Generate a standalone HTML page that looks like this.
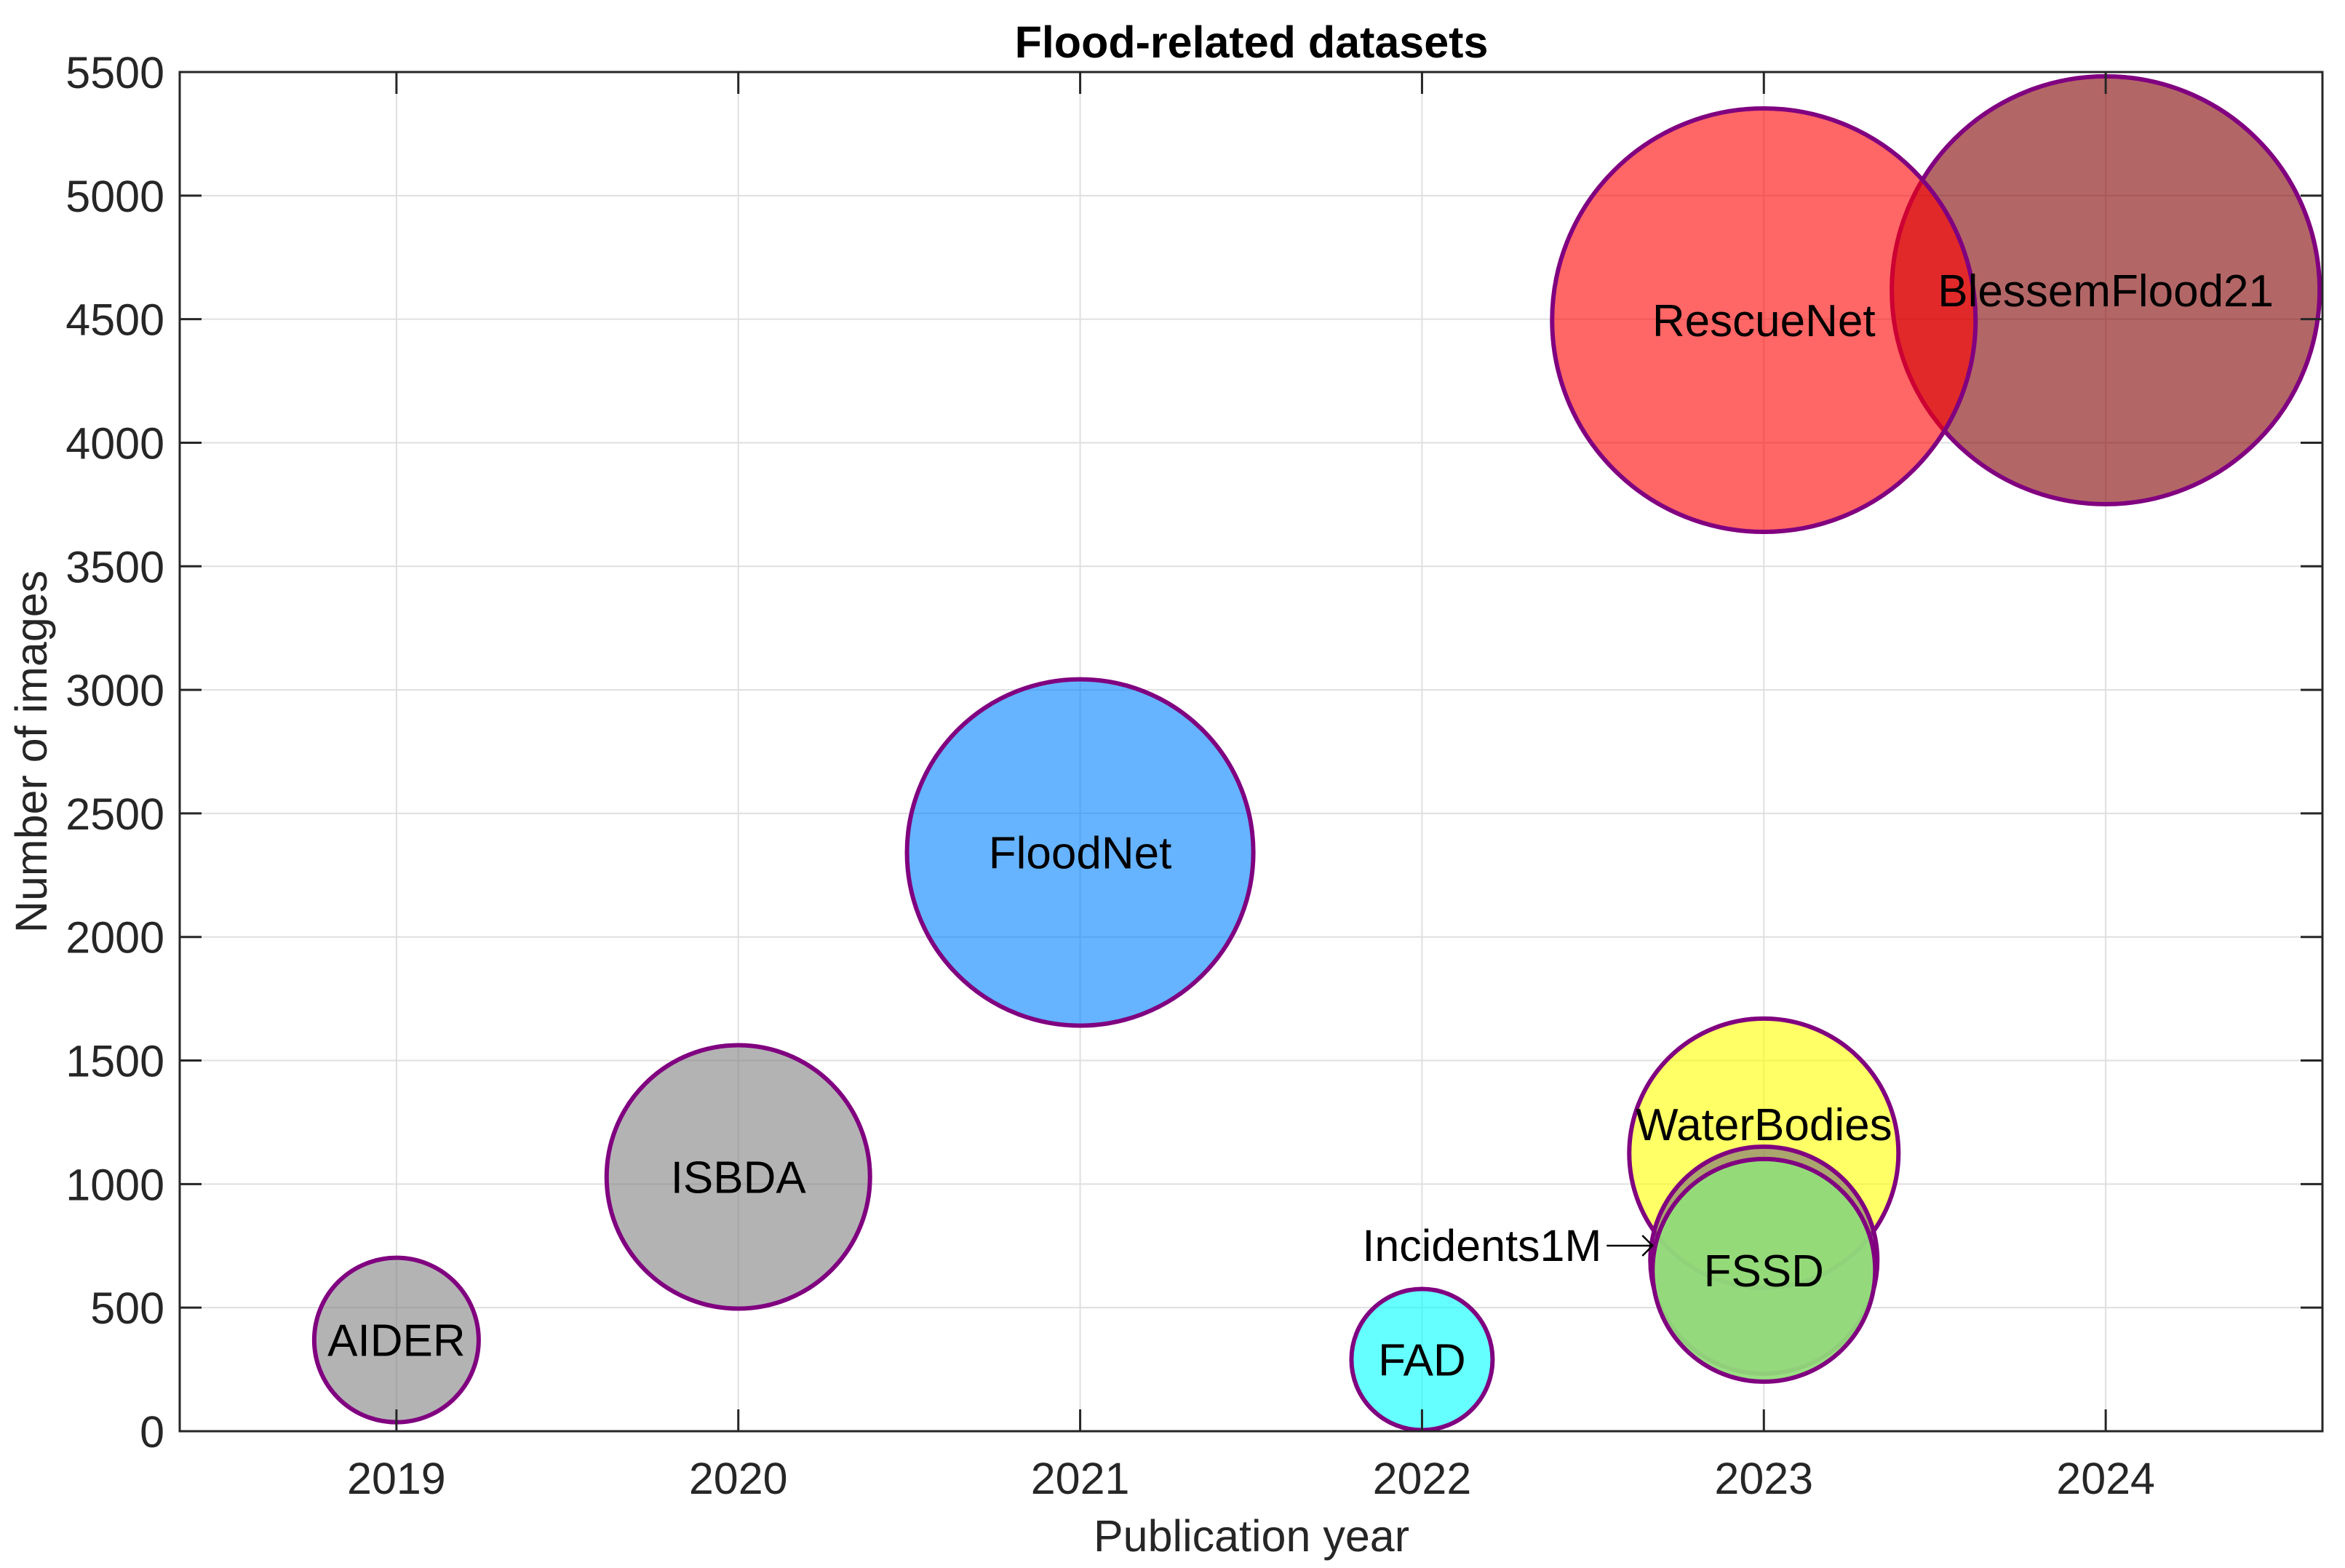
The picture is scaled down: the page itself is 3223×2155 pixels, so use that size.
<!DOCTYPE html>
<html><head><meta charset="utf-8"><style>
html,body{margin:0;padding:0;background:#fff}
svg{display:block;font-family:"Liberation Sans",Arial,sans-serif}
</style></head><body>
<svg id="chart" width="3223" height="2155" viewBox="0 0 3223 2155" xmlns="http://www.w3.org/2000/svg">
<rect x="0" y="0" width="3223" height="2155" fill="#fff"/>
<g id="grid"></g>
<g id="bubbles"></g>
<g id="labels"></g>
<g id="axes"></g>
<text x="1720" y="79" text-anchor="middle" font-size="61" font-weight="bold" fill="#000">Flood-related datasets</text>
<text x="1720" y="2132" text-anchor="middle" font-size="61" fill="#262626">Publication year</text>
<text x="0" y="0" transform="translate(64,1033) rotate(-90)" text-anchor="middle" font-size="61" fill="#262626">Number of images</text>
</svg>
<script>
const names = ["BlessemFlood21","RescueNet","AIDER","ISBDA","FloodNet","FAD","WaterBodies","Incidents1M","FSSD"];
const years = [2024,2023,2019,2020,2021,2022,2023,2023,2023];
const images = [4617,4496,369,1029,2342,290,1125,692,651];
const bubbleRadius = [294,291,113,181,238,97,185,156,153];
const fills = ["rgba(128,0,0,0.6)","rgba(255,0,0,0.6)","rgba(128,128,128,0.6)","rgba(128,128,128,0.6)","rgba(0,128,255,0.6)","rgba(0,255,255,0.6)","rgba(255,255,0,0.6)","rgba(115,105,115,0.6)","rgba(146,222,122,0.93)"];
const labelShift = [0,0,0,0,0,0,-40,0,0];
const xTicks = [2019,2020,2021,2022,2023,2024];
const yTicks = [0,500,1000,1500,2000,2500,3000,3500,4000,4500,5000,5500];

const L=247,R=3192,T=99,B=1967;
const xMin=2018.366,xMax=2024.634,yMin=0,yMax=5500;
const xs=v=>L+(v-xMin)/(xMax-xMin)*(R-L);
const ys=v=>B-(v-yMin)/(yMax-yMin)*(B-T);
const NS="http://www.w3.org/2000/svg";
function mk(tag,attrs,parent){const e=document.createElementNS(NS,tag);for(const k in attrs)e.setAttribute(k,attrs[k]);parent.appendChild(e);return e;}
const grid=document.getElementById('grid'),axes=document.getElementById('axes'),bub=document.getElementById('bubbles'),lab=document.getElementById('labels');

xTicks.forEach(t=>{
  const x=xs(t);
  const g=mk('line',{x1:x,x2:x,y1:T,y2:B,stroke:'#dfdfdf','stroke-width':2},grid);
  
  
  const tk=mk('line',{x1:x,x2:x,y1:B,y2:B-30,stroke:'#262626','stroke-width':3},axes);
  
  
  const tk2=mk('line',{x1:x,x2:x,y1:T,y2:T+30,stroke:'#262626','stroke-width':3},axes);
  
  
  const tl=mk('text',{x:x,y:2053,'text-anchor':'middle','font-size':61,fill:'#262626'},axes);
  tl.textContent=t;
  
  
});
yTicks.forEach(t=>{
  const y=ys(t);
  const g=mk('line',{x1:L,x2:R,y1:y,y2:y,stroke:'#dfdfdf','stroke-width':2},grid);
  
  
  const tk=mk('line',{x1:L,x2:L+30,y1:y,y2:y,stroke:'#262626','stroke-width':3},axes);
  
  
  const tk2=mk('line',{x1:R,x2:R-30,y1:y,y2:y,stroke:'#262626','stroke-width':3},axes);
  
  
  const tl=mk('text',{x:226,y:y+22,'text-anchor':'end','font-size':61,fill:'#262626'},axes);
  tl.textContent=t;
  
  
});
const frame=mk('rect',{x:L,y:T,width:R-L,height:B-T,fill:'none',stroke:'#262626','stroke-width':3},axes);



names.forEach((n,i)=>{
  const cx=xs(years[i]),cy=ys(images[i]);
  const c=mk('circle',{cx:cx,cy:cy,r:bubbleRadius[i],fill:fills[i],stroke:'#800080','stroke-width':6},bub);
  
  
  if(n==='Incidents1M'){
    const tipX=cx-bubbleRadius[i]+3, ty=cy-20;
    const t=mk('text',{x:tipX-70,y:ty+21,'text-anchor':'end','font-size':61,fill:'#000'},lab);
    t.textContent='Incidents1M';
    
    
    const a=mk('path',{d:`M${tipX-63} ${ty} L${tipX} ${ty} M${tipX-14} ${ty-14} L${tipX} ${ty} L${tipX-14} ${ty+14}`,fill:'none',stroke:'#000','stroke-width':2.5},lab);
    
    
  } else {
    const t=mk('text',{x:cx,y:cy+22+labelShift[i],'text-anchor':'middle','font-size':62,fill:'#000'},lab);
    t.textContent=n;
    
    
  }
});
</script>
</body></html>
